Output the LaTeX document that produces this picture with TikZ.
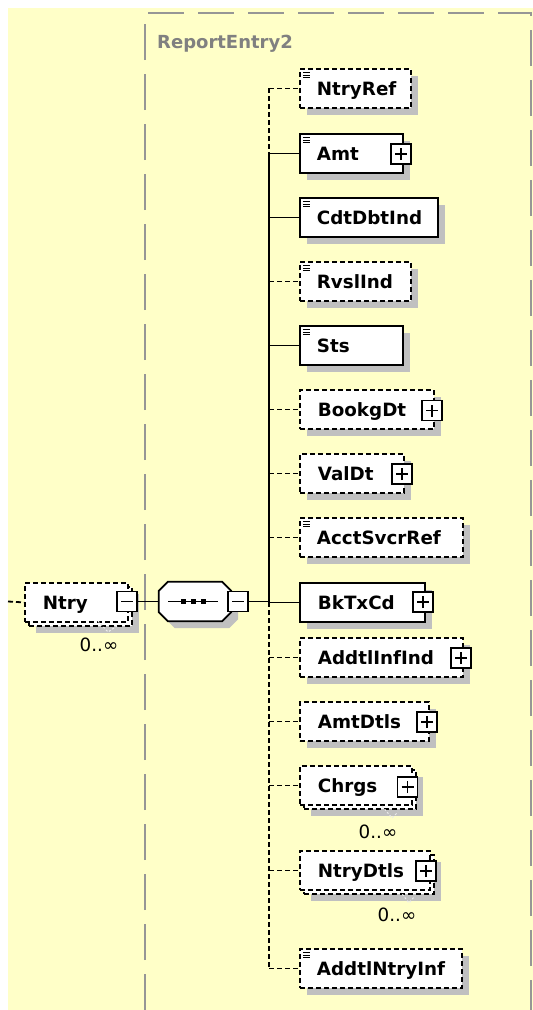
\documentclass[tikz,border=0pt]{standalone}
\usepackage{fontspec}
\setmainfont{DejaVu Sans}
\definecolor{bgy}{RGB}{255,255,200}
\definecolor{shadowc}{RGB}{192,192,192}
\definecolor{framec}{RGB}{150,150,150}
\definecolor{labelc}{RGB}{128,128,128}
\definecolor{markc}{RGB}{235,235,235}
\begin{document}
\begin{tikzpicture}[x=1pt,y=-1pt,
  elbase/.style={draw=black, fill=white, line width=1.8pt, inner sep=0pt,
    minimum height=39pt, anchor=north west, text height=13.3pt, text depth=0pt,
    font=\fontsize{18.3}{20}\selectfont\bfseries},
  single/.style={preaction={fill=shadowc, transform canvas={shift={(7pt,-7pt)}}}},
  multi/.style={preaction={fill=shadowc, transform canvas={shift={(11pt,-11pt)}}},
    preaction={draw=black, fill=white, line width=1.8pt, dash pattern=on 5pt off 3pt,
      transform canvas={shift={(4pt,-4pt)}}}},
  opt/.style={dash pattern=on 5pt off 3pt},
  icon/.style={path picture={
    \foreach \d in {4,6.5,9} {\draw[black, line width=0.9pt, solid]
      ([xshift=3pt,yshift=-\d pt]path picture bounding box.north west) -- ++(7pt,0pt);}}},
  plusbox/.style={draw=black, fill=white, line width=1.4pt, minimum width=20pt,
    minimum height=20pt, inner sep=0pt, path picture={
    \draw[black, line width=1.4pt, solid] ([xshift=4pt]path picture bounding box.west)
      -- ([xshift=-4pt]path picture bounding box.east);
    \draw[black, line width=1.4pt, solid] ([yshift=4pt]path picture bounding box.south)
      -- ([yshift=-4pt]path picture bounding box.north);}},
  minusbox/.style={draw=black, fill=white, line width=1.4pt, minimum width=20pt,
    minimum height=20pt, inner sep=0pt, path picture={
    \draw[black, line width=1.4pt, solid] ([xshift=4pt]path picture bounding box.west)
      -- ([xshift=-4pt]path picture bounding box.east);}},
  seqbox/.style={minimum width=72pt, minimum height=39pt, inner sep=0pt},
  conn/.style={draw=black, line width=1.8pt},
  dconn/.style={conn, dash pattern=on 5pt off 3pt},
  frame/.style={draw=framec, line width=2pt, dash pattern=on 36pt off 14pt},
  occ/.style={font=\fontsize{18.3}{20}\selectfont, inner sep=0pt, text=black},
  vmark/.style={draw=markc, line width=1pt, dash pattern=on 2pt off 2pt}
]
\useasboundingbox (0,0) rectangle (533,1010);
\fill[white] (0,0) rectangle (533,1010);
\fill[bgy] (8,8) rectangle (533,1010);
\draw[frame] (145,1010) -- (145,13) -- (531,13) -- (531,1010);
\node[anchor=west, text=labelc, font=\fontsize{18}{20}\selectfont\bfseries, inner sep=0pt,
  text height=13pt, text depth=0pt] (grp) at (157,42) {ReportEntry2};

% root element
\node[elbase, multi, opt] (ntry) at (24,582) {\makebox[103pt][l]{\hspace{18pt}Ntry}};
\node[minusbox] (ntrym) at (127,601.5) {};
\node[occ] (ntryocc) at (99,645) {0..∞};
\draw[vmark] (98,621) -- (108,632) -- (117,626);

% sequence compositor (octagon)
\node[seqbox] (seq) at (195,601.5) {};
\fill[shadowc, transform canvas={shift={(7pt,-7pt)}}]
  ([xshift=9pt]seq.north west) -- ([xshift=-9pt]seq.north east) -- ([yshift=-9pt]seq.north east)
  -- ([yshift=9pt]seq.south east) -- ([xshift=-9pt]seq.south east) -- ([xshift=9pt]seq.south west)
  -- ([yshift=9pt]seq.south west) -- ([yshift=-9pt]seq.north west) -- cycle;
\filldraw[fill=white, draw=black, line width=1.8pt]
  ([xshift=9pt]seq.north west) -- ([xshift=-9pt]seq.north east) -- ([yshift=-9pt]seq.north east)
  -- ([yshift=9pt]seq.south east) -- ([xshift=-9pt]seq.south east) -- ([xshift=9pt]seq.south west)
  -- ([yshift=9pt]seq.south west) -- ([yshift=-9pt]seq.north west) -- cycle;
\draw[black, line width=1.5pt] ([xshift=-27pt]seq.center) -- ([xshift=23pt]seq.center);
\foreach \dx in {-12,-2,8} {\fill[black] ([xshift=\dx pt]seq.center) ++(-2.5pt,-2.5pt) rectangle ++(5pt,5pt);}
\node[minusbox] (seqm) at (238,601.5) {};

% children
\node[elbase, single, opt, icon] (ntryref) at (299,68) {\makebox[111pt][l]{\hspace{17pt}NtryRef}};
\node[elbase, single, icon] (amt) at (299,133) {\makebox[103pt][l]{\hspace{17pt}Amt}};
\node[plusbox] (amtp) at (401,154) {};
\node[elbase, single, icon] (cdt) at (299,197) {\makebox[138pt][l]{\hspace{17pt}CdtDbtInd}};
\node[elbase, single, opt, icon] (rvsl) at (299,261) {\makebox[111pt][l]{\hspace{17pt}RvslInd}};
\node[elbase, single, icon] (sts) at (299,325) {\makebox[103pt][l]{\hspace{17pt}Sts}};
\node[elbase, single, opt] (bookg) at (299,389) {\makebox[134pt][l]{\hspace{18pt}BookgDt}};
\node[plusbox] (bookgp) at (432,410.5) {};
\node[elbase, single, opt] (valdt) at (299,453) {\makebox[104pt][l]{\hspace{18pt}ValDt}};
\node[plusbox] (valdtp) at (402,474) {};
\node[elbase, single, opt, icon] (acct) at (299,517) {\makebox[163pt][l]{\hspace{17pt}AcctSvcrRef}};
\node[elbase, single] (bktx) at (299,582) {\makebox[125pt][l]{\hspace{18pt}BkTxCd}};
\node[plusbox] (bktxp) at (423,602) {};
\node[elbase, single, opt] (addinf) at (299,637) {\makebox[163pt][l]{\hspace{18pt}AddtlInfInd}};
\node[plusbox] (addinfp) at (461,658) {};
\node[elbase, single, opt] (amtdtls) at (299,701) {\makebox[129pt][l]{\hspace{18pt}AmtDtls}};
\node[plusbox] (amtdtlsp) at (427,722) {};
\node[elbase, multi, opt] (chrgs) at (299,765) {\makebox[112pt][l]{\hspace{18pt}Chrgs}};
\node[plusbox] (chrgsp) at (407.5,787) {};
\node[occ] (chrgsocc) at (378,832) {0..∞};
\draw[vmark] (382,806) -- (392,818) -- (398,812);
\node[elbase, multi, opt] (ntrydtls) at (299,850) {\makebox[130pt][l]{\hspace{18pt}NtryDtls}};
\node[plusbox] (ntrydtlsp) at (426,871) {};
\node[occ] (ntrydtlsocc) at (397,915) {0..∞};
\draw[vmark] (400,891) -- (409,903) -- (414,897);
\node[elbase, single, opt, icon] (addntry) at (299,948) {\makebox[162pt][l]{\hspace{17pt}AddtlNtryInf}};

% connectors
\coordinate (in) at (8,601.5);
\coordinate (busx) at (269,0);
\draw[dconn] (in) -- (ntry.west);
\draw[conn] (ntrym.east) -- (seq.west);
\draw[conn] (seqm.east) -- (seqm.east -| busx);
\draw[dconn] (ntryref.west -| busx) -- (amt.west -| busx);
\draw[conn] (amt.west -| busx) -- (bktx.west -| busx);
\draw[dconn] (bktx.west -| busx) -- (addntry.west -| busx);
\foreach \n in {amt,cdt,sts,bktx} {\draw[conn] (\n.west -| busx) -- (\n.west);}
\foreach \n in {ntryref,rvsl,bookg,valdt,acct,addinf,amtdtls,chrgs,ntrydtls,addntry} {\draw[dconn] (\n.west -| busx) -- (\n.west);}
\end{tikzpicture}
\end{document}
